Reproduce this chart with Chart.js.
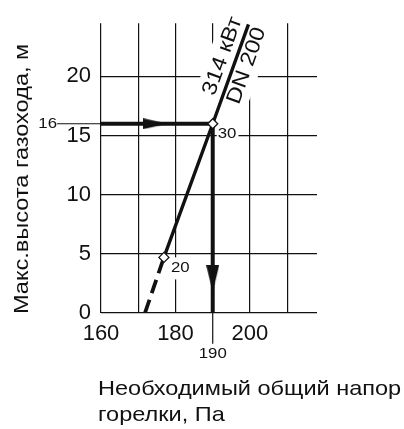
<!DOCTYPE html>
<html>
<head>
<meta charset="utf-8">
<script src="https://cdn.jsdelivr.net/npm/chart.js@4.4.1/dist/chart.umd.min.js"></script>
<style>
  html, body { margin: 0; padding: 0; background: #fff; }
  #wrap { width: 404px; height: 429px; }
</style>
</head>
<body>
<div id="wrap"><canvas id="myChart"></canvas></div>
<script>
// ticks / gridlines
const xTicks = [160, 170, 180, 190, 200, 210]
const xLabelled = [160, 180, 200]
const yTicks = [0, 5, 10, 15, 20]

// 314 kW, DN 200 curve (solid) and its extrapolation (dashed)
const lineX = [176.9, 190, 199.6]
const lineY = [4.7, 16, 24.4]
const dashX = [171.8, 176.9]
const dashY = [0, 4.7]

// read-off example: 16 m -> 190 Pa
const readHeight = 16
const readPressure = 190
const leaderStartX = 148.2   // thin leader out to the "16" label
const leaderEndY = -2.6      // thin leader down to the "190" label

// arrow heads on the read-off path
const arrowX = [174.6, 190]
const arrowY = [16, 2.9]
const arrowRot = [0, 90]

// marked points on the curve
const markX = [190, 176.9]
const markY = [16, 4.7]
const markLabels = ['30', '20']

const FONT = "'Liberation Sans', Arial, sans-serif"
const INK = '#111'
const STRETCH = 1.12   // the original lettering is a bit wider than Arial

const pts = (xs, ys) => xs.map((v, i) => ({x: v, y: ys[i]}))

// text drawn slightly wider, optionally rotated
function wideText(ctx, text, x, y, rot, sx) {
  ctx.save()
  ctx.translate(x, y)
  if (rot) ctx.rotate(rot)
  ctx.scale(sx || STRETCH, 1)
  ctx.fillText(text, 0, 0)
  ctx.restore()
}

// arrow head as a small canvas, pointing right
function arrowHead(len, half) {
  const c = document.createElement('canvas')
  c.width = len; c.height = half * 2 + 1
  const g = c.getContext('2d')
  g.fillStyle = INK
  g.beginPath()
  g.moveTo(0, 0); g.lineTo(len, half + 0.5); g.lineTo(0, half * 2 + 1)
  g.closePath(); g.fill()
  return c
}
const headH = arrowHead(25, 5)
const headV = arrowHead(27, 6)

const notes = {
  id: 'notes',
  _geo(chart) {
    const {x, y} = chart.scales
    const p0 = {x: x.getPixelForValue(lineX[1]), y: y.getPixelForValue(lineY[1])}
    const p1 = {x: x.getPixelForValue(lineX[2]), y: y.getPixelForValue(lineY[2])}
    const len = Math.hypot(p1.x - p0.x, p1.y - p0.y)
    const ux = (p1.x - p0.x) / len, uy = (p1.y - p0.y) / len
    const nx = -uy, ny = ux
    const ang = Math.atan2(uy, ux)
    return [
      {text: '314 кВт', along: 67, off: -13.5},
      {text: 'DN 200', along: 66, off: 12.5}
    ].map(t => ({text: t.text, ang,
      cx: p0.x + ux * t.along + nx * t.off,
      cy: p0.y + uy * t.along + ny * t.off}))
  },
  beforeDatasetsDraw(chart) {
    const {ctx} = chart
    const {x, y} = chart.scales
    ctx.save()
    ctx.fillStyle = '#fff'
    ctx.font = '21px ' + FONT
    this._geo(chart).forEach(t => {
      const w = ctx.measureText(t.text).width * STRETCH
      ctx.save()
      ctx.translate(t.cx, t.cy)
      ctx.rotate(t.ang)
      ctx.fillRect(-w / 2 - 4, -14, w + 8, 28)
      ctx.restore()
    })
    ctx.font = '15px ' + FONT
    markX.forEach((v, i) => {
      const px = x.getPixelForValue(v) + (i ? 7 : 5)
      const py = y.getPixelForValue(markY[i]) + 10
      const w = ctx.measureText(markLabels[i]).width * STRETCH
      ctx.fillRect(px - 1, py - 10, w + 3, 22)
    })
    ctx.restore()
  },
  afterDatasetsDraw(chart) {
    const {ctx, chartArea} = chart
    const {x, y} = chart.scales
    ctx.save()
    ctx.fillStyle = INK
    ctx.font = '21px ' + FONT
    ctx.textAlign = 'center'
    ctx.textBaseline = 'middle'
    this._geo(chart).forEach(t => wideText(ctx, t.text, t.cx, t.cy, t.ang))

    ctx.font = '15px ' + FONT
    ctx.textAlign = 'left'
    markX.forEach((v, i) => {
      wideText(ctx, markLabels[i], x.getPixelForValue(v) + (i ? 7 : 5), y.getPixelForValue(markY[i]) + 10)
    })
    ctx.textAlign = 'right'
    wideText(ctx, String(readHeight), x.getPixelForValue(leaderStartX), y.getPixelForValue(readHeight))
    ctx.textAlign = 'center'
    wideText(ctx, String(readPressure), x.getPixelForValue(readPressure), y.getPixelForValue(leaderEndY) + 10)

    // axis titles; the x title runs off the right edge like the original
    ctx.font = '21px ' + FONT
    ctx.textAlign = 'left'
    wideText(ctx, 'Макс.высота газохода, м', 22, chartArea.bottom + 1, -Math.PI / 2)
    ctx.textBaseline = 'alphabetic'
    wideText(ctx, 'Необходимый общий напор', chartArea.left - 3, chartArea.bottom + 82)
    wideText(ctx, 'горелки, Па', chartArea.left - 3, chartArea.bottom + 108)
    ctx.restore()
  }
}

const ctx = document.getElementById('myChart').getContext('2d')

const myChart = new Chart(ctx, {
  type: 'scatter',
  data: {
    datasets: [
      { // markers
        data: pts(markX, markY),
        pointStyle: 'rectRot', pointRadius: 5, pointBackgroundColor: '#fff',
        pointBorderColor: INK, pointBorderWidth: 1.3, order: 1
      },
      { // arrow heads
        data: pts(arrowX, arrowY),
        pointStyle: [headH, headV], pointRotation: arrowRot,
        pointRadius: 6, order: 2
      },
      { // horizontal read-off
        data: [{x: xTicks[0], y: readHeight}, {x: readPressure, y: readHeight}],
        showLine: true, borderColor: INK, borderWidth: 4.2, pointRadius: 0, order: 3
      },
      {
        data: [{x: leaderStartX, y: readHeight}, {x: xTicks[0], y: readHeight}],
        showLine: true, borderColor: INK, borderWidth: 1.2, pointRadius: 0, clip: false, order: 3
      },
      { // vertical read-off
        data: [{x: readPressure, y: readHeight}, {x: readPressure, y: 0}],
        showLine: true, borderColor: INK, borderWidth: 4, pointRadius: 0, order: 3
      },
      {
        data: [{x: readPressure, y: 0}, {x: readPressure, y: leaderEndY}],
        showLine: true, borderColor: INK, borderWidth: 1.2, pointRadius: 0, clip: false, order: 3
      },
      { // curve
        data: pts(lineX, lineY),
        showLine: true, borderColor: INK, borderWidth: 3.4, pointRadius: 0, order: 4
      },
      { // extrapolation
        data: pts(dashX, dashY),
        showLine: true, borderColor: INK, borderWidth: 3.8, borderDash: [14, 7],
        pointRadius: 0, order: 5
      },
      { // white halo keeps gridlines clear around the upper curve
        data: pts(lineX.slice(1), lineY.slice(1)),
        showLine: true, borderColor: '#fff', borderWidth: 20, pointRadius: 0, order: 10
      }
    ]
  },
  options: {
    responsive: true,
    maintainAspectRatio: false,
    animation: false,
    events: [],
    layout: { padding: { left: 0, top: 15, right: 87, bottom: 0 } },
    plugins: { legend: { display: false }, tooltip: { enabled: false } },
    scales: {
      x: {
        type: 'linear', min: 160, max: 218,
        afterBuildTicks: (s) => { s.ticks = xTicks.map(v => ({value: v})) },
        afterFit: (s) => { s.height = 116 },
        border: { display: false },
        grid: { color: INK, lineWidth: 1.2, drawTicks: false },
        ticks: {
          color: INK, padding: 8, maxRotation: 0, autoSkip: false,
          font: { family: FONT, size: 22 },
          callback: (v) => xLabelled.includes(v) ? String(v) : ''
        }
      },
      y: {
        type: 'linear', min: 0, max: 24.5,
        afterBuildTicks: (s) => { s.ticks = yTicks.map(v => ({value: v})) },
        afterFit: (s) => { s.width = 101 },
        border: { display: false },
        grid: { color: INK, lineWidth: 1.2, drawTicks: false },
        ticks: { color: INK, padding: 10, font: { family: FONT, size: 22 } }
      }
    }
  },
  plugins: [notes]
})
</script>
</body>
</html>
